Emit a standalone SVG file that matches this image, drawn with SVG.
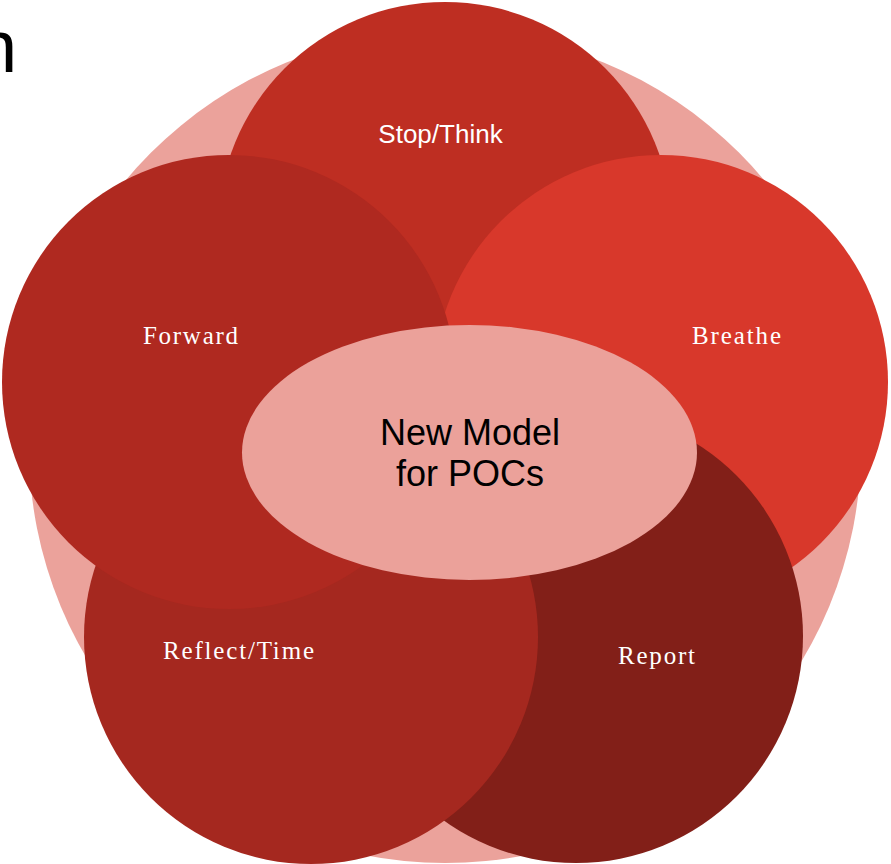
<svg xmlns="http://www.w3.org/2000/svg" width="891" height="864" viewBox="0 0 891 864">
  <style>
    .lbl-sans { font-family: "Liberation Sans", Arial, sans-serif; fill: #ffffff; font-size: 26px; }
    .lbl-serif { font-family: "Liberation Serif", "Times New Roman", serif; fill: #ffffff; font-size: 25px; }
    .center { font-family: "Liberation Sans", Arial, sans-serif; fill: #000000; font-size: 36px; }
  </style>
  <rect x="0" y="0" width="891" height="864" fill="#ffffff"/>
  <text x="-24" y="72" font-family="Liberation Sans, Arial, sans-serif" font-size="74" fill="#000000">n</text>
  <g id="background">
    <circle cx="445" cy="447" r="416" fill="#EBA29B"/>
  </g>
  <g id="stop-think">
    <circle cx="445" cy="229" r="227" fill="#BE2E22"/>
    <text class="lbl-sans" x="440.5" y="143" text-anchor="middle">Stop/Think</text>
  </g>
  <g id="breathe">
    <circle cx="661" cy="382" r="227" fill="#D8382B"/>
    <text class="lbl-serif" x="692" y="344" textLength="89" lengthAdjust="spacing">Breathe</text>
  </g>
  <g id="report">
    <circle cx="576" cy="636" r="227" fill="#821F18"/>
    <text class="lbl-serif" x="618" y="664" textLength="77" lengthAdjust="spacing">Report</text>
  </g>
  <g id="reflect-time">
    <circle cx="311" cy="637" r="227" fill="#A5281F"/>
    <text class="lbl-serif" x="163" y="659" textLength="151" lengthAdjust="spacing">Reflect/Time</text>
  </g>
  <g id="forward">
    <circle cx="229" cy="382" r="227" fill="#AF2920"/>
    <text class="lbl-serif" x="143" y="344" textLength="95" lengthAdjust="spacing">Forward</text>
  </g>
  <g id="new-model">
    <ellipse cx="469.5" cy="452.5" rx="227.5" ry="127.5" fill="#EBA19A"/>
    <text class="center" x="470" y="445" text-anchor="middle">New Model</text>
    <text class="center" x="470" y="486" text-anchor="middle">for POCs</text>
  </g>
  <g id="connectors"/>
</svg>
